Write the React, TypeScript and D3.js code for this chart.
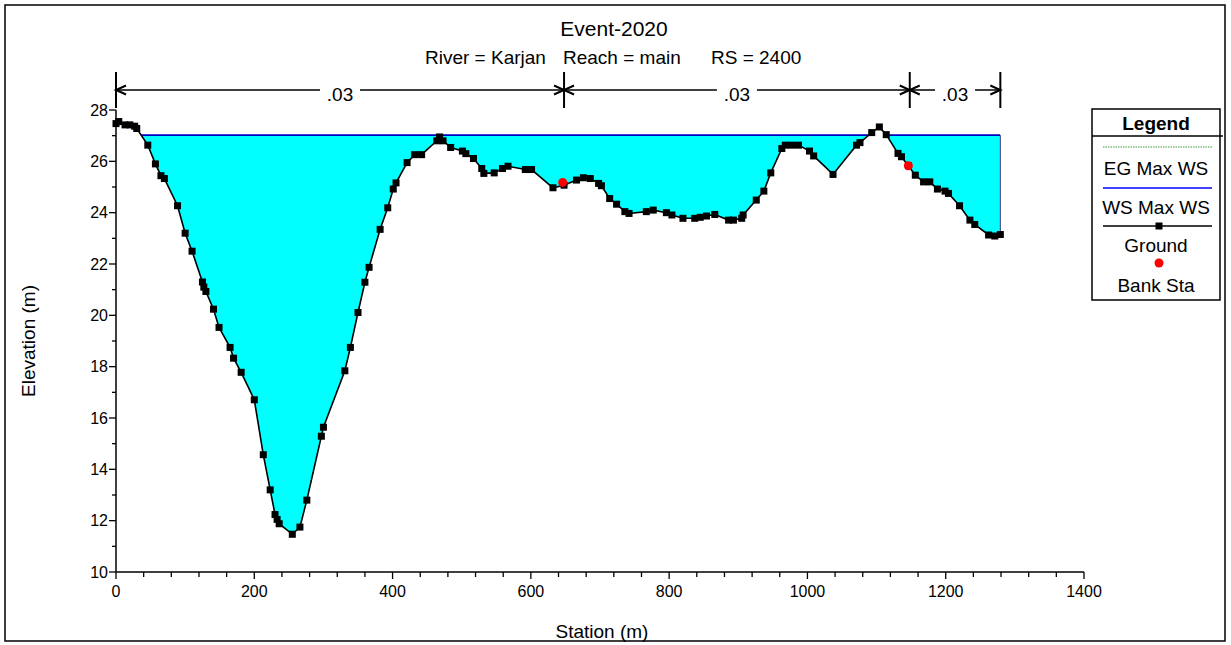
import React from "react";
import * as d3 from "d3";

// ---------- data ----------
const stations = [
  0, 4, 13, 20, 27, 30, 46, 57, 65, 70, 89, 100, 110, 125, 127, 130, 141, 149, 165, 170,
  181, 200, 213, 223, 230, 233, 236, 255, 266, 276, 297, 300, 331, 339, 350, 360, 366, 382,
  393, 401, 405, 421, 432, 442, 464, 468, 473, 484, 501, 506, 517, 529, 532, 547, 559, 567,
  592, 601, 632, 648, 666, 676, 686, 698, 702, 714, 724, 736, 742, 767, 777, 796, 804, 820,
  837, 845, 854, 866, 886, 893, 905, 907, 926, 937, 947, 963, 968, 977, 987, 1003, 1009,
  1037, 1071, 1076, 1093, 1104, 1114, 1131, 1136, 1146, 1156, 1168, 1177, 1188, 1199, 1204,
  1220, 1235, 1242, 1262, 1271, 1279,
];
const elevations = [
  27.47, 27.55, 27.42, 27.42, 27.37, 27.28, 26.63, 25.9, 25.44, 25.33, 24.27, 23.2, 22.5,
  21.3, 21.1, 20.93, 20.24, 19.53, 18.75, 18.33, 17.78, 16.71, 14.57, 13.2, 12.24, 12.05,
  11.88, 11.47, 11.75, 12.8, 15.29, 15.64, 17.84, 18.75, 20.11, 21.29, 21.87, 23.35, 24.19,
  24.92, 25.16, 25.95, 26.26, 26.26, 26.8, 26.95, 26.8, 26.54, 26.4, 26.3, 26.11, 25.72,
  25.53, 25.55, 25.72, 25.81, 25.68, 25.68, 24.97, 25.07, 25.27, 25.36, 25.33, 25.14, 25.05,
  24.55, 24.33, 24.04, 23.97, 24.04, 24.1, 24.0, 23.91, 23.78, 23.78, 23.82, 23.87, 23.93,
  23.71, 23.71, 23.78, 23.91, 24.49, 24.84, 25.55, 26.5, 26.63, 26.63, 26.63, 26.4, 26.21,
  25.49, 26.63, 26.73, 27.12, 27.34, 27.04, 26.31, 26.18, 25.83, 25.46, 25.2, 25.2, 24.92,
  24.84, 24.75, 24.27, 23.71, 23.54, 23.13, 23.09, 23.15,
];
const bankStations = [646, 1146];
const bankElevations = [25.18, 25.83];
const nBreaks = [0, 648, 1148, 1279];
const nValues = [".03", ".03", ".03"];
const wsElevation = 27.02;
const xTicks = [0, 200, 400, 600, 800, 1000, 1200, 1400];
const xMinorTicks = d3.range(0, 1401, 40);
const yTicks = [10, 12, 14, 16, 18, 20, 22, 24, 26, 28];
const yMinorTicks = d3.range(10, 29, 1);
const titleText = "Event-2020";
const subtitleParts = ["River = Karjan", "Reach = main", "RS = 2400"];
const legendLabels = ["EG Max WS", "WS Max WS", "Ground", "Bank Sta"];
const xTitle = "Station (m)";
const yTitle = "Elevation (m)";

// ---------- layout ----------
const W = 1231;
const H = 645;
const FONT = "'Liberation Sans', Arial, sans-serif";
const x = d3.scaleLinear().domain([0, 1400]).range([116, 1084]);
const y = d3.scaleLinear().domain([10, 28]).range([572, 110]);

export default function App() {
  const ground = stations.map((s, i) => [s, elevations[i]] as [number, number]);
  const lineGen = d3
    .line<[number, number]>()
    .x((d) => x(d[0]))
    .y((d) => y(d[1]));
  const lastS = stations[stations.length - 1];
  const lastE = elevations[elevations.length - 1];
  const clipPts: [number, number][] = [...ground, [lastS, 29.5], [stations[0], 29.5]];
  const clipD = lineGen(clipPts) + "Z";
  const waterArea = d3
    .area<number>()
    .x((s) => x(s))
    .y0(y(10))
    .y1(y(wsElevation));
  const wsLine = d3
    .line<number>()
    .x((s) => x(s))
    .y(() => y(wsElevation));

  const barTop = 72;
  const barBottom = 108;
  const barY = 90;
  const arrowL = 10;
  const arrowW = 4.5;

  const legX0 = 1092;
  const legX1 = 1220;
  const legCx = (legX0 + legX1) / 2;
  const legLineX0 = 1103;
  const legLineX1 = 1212;
  const legFS = 19;

  return (
    <div style={{ position: "absolute", left: 0, top: 0 }}>
      <svg width={W} height={H} style={{ display: "block", fontFamily: FONT }}>
        <rect x={0} y={0} width={W} height={H} fill="#fff" />
        <rect x={5} y={5} width={1220} height={636} fill="none" stroke="#000" strokeWidth={1.5} />

        {/* titles */}
        <text x={614} y={28} textAnchor="middle" dominantBaseline="central" fontSize={21}>
          {titleText}
        </text>
        <text x={425} y={57} dominantBaseline="central" fontSize={19}>{subtitleParts[0]}</text>
        <text x={563} y={57} dominantBaseline="central" fontSize={19}>{subtitleParts[1]}</text>
        <text x={711} y={57} dominantBaseline="central" fontSize={19}>{subtitleParts[2]}</text>

        <defs>
          <clipPath id="aboveGround">
            <path d={clipD} />
          </clipPath>
        </defs>

        {/* water */}
        <g clipPath="url(#aboveGround)">
          <path d={waterArea([stations[0], lastS]) || ""} fill="#00FFFF" />
          <path d={wsLine([stations[0], lastS]) || ""} stroke="#0000C0" strokeWidth={1.6} fill="none" />
        </g>
        <line
          x1={x(lastS)}
          x2={x(lastS)}
          y1={y(wsElevation)}
          y2={y(lastE)}
          stroke="#3a3a80"
          strokeWidth={1}
        />

        {/* ground */}
        <path d={lineGen(ground) || ""} fill="none" stroke="#000" strokeWidth={1.6} />
        {ground.map((d, i) => (
          <rect key={i} x={x(d[0]) - 3.5} y={y(d[1]) - 3.5} width={7} height={7} fill="#000" />
        ))}
        {bankStations.map((s, i) => (
          <circle key={i} cx={x(s)} cy={y(bankElevations[i])} r={4.5} fill="#FF0000" />
        ))}

        {/* axes */}
        <line x1={x(0)} x2={x(1400)} y1={y(10)} y2={y(10)} stroke="#000" strokeWidth={1.5} />
        <line x1={x(0)} x2={x(0)} y1={y(10)} y2={y(28)} stroke="#000" strokeWidth={1.5} />
        {xMinorTicks.map((t) => (
          <line
            key={"xm" + t}
            x1={x(t)}
            x2={x(t)}
            y1={y(10)}
            y2={y(10) + (t % 200 === 0 ? 7 : 5)}
            stroke="#000"
            strokeWidth={1.3}
          />
        ))}
        {xTicks.map((t) => (
          <text key={"xl" + t} x={x(t)} y={591} textAnchor="middle" dominantBaseline="central" fontSize={16}>
            {t}
          </text>
        ))}
        {yMinorTicks.map((t) => (
          <line
            key={"ym" + t}
            x1={x(0) - (t % 2 === 0 ? 7 : 4)}
            x2={x(0)}
            y1={y(t)}
            y2={y(t)}
            stroke="#000"
            strokeWidth={1.3}
          />
        ))}
        {yTicks.map((t) => (
          <text key={"yl" + t} x={x(0) - 8} y={y(t)} textAnchor="end" dominantBaseline="central" fontSize={16}>
            {t}
          </text>
        ))}
        <text x={602} y={631} textAnchor="middle" dominantBaseline="central" fontSize={19}>
          {xTitle}
        </text>
        <text
          transform={`translate(28,${(y(10) + y(28)) / 2}) rotate(-90)`}
          textAnchor="middle"
          dominantBaseline="central"
          fontSize={19}
        >
          {yTitle}
        </text>

        {/* Manning's n bars */}
        {nBreaks.map((s) => (
          <line key={"nb" + s} x1={x(s)} x2={x(s)} y1={barTop} y2={barBottom} stroke="#000" strokeWidth={2} />
        ))}
        {nValues.map((v, i) => {
          const a = x(nBreaks[i]);
          const b = x(nBreaks[i + 1]);
          const c = (a + b) / 2;
          const gap = 20;
          return (
            <g key={"nv" + i}>
              <line x1={a} x2={c - gap} y1={barY} y2={barY} stroke="#000" strokeWidth={1.5} />
              <line x1={c + gap} x2={b} y1={barY} y2={barY} stroke="#000" strokeWidth={1.5} />
              <polyline
                points={`${a + arrowL},${barY - arrowW} ${a},${barY} ${a + arrowL},${barY + arrowW}`}
                fill="none"
                stroke="#000"
                strokeWidth={2}
              />
              <polyline
                points={`${b - arrowL},${barY - arrowW} ${b},${barY} ${b - arrowL},${barY + arrowW}`}
                fill="none"
                stroke="#000"
                strokeWidth={2}
              />
              <text x={c} y={barY + 4} textAnchor="middle" dominantBaseline="central" fontSize={19}>
                {v}
              </text>
            </g>
          );
        })}

        {/* legend */}
        <rect x={legX0} y={109} width={legX1 - legX0} height={191} fill="#fff" stroke="#000" strokeWidth={1.5} />
        <line x1={legX0} x2={1223} y1={136} y2={136} stroke="#000" strokeWidth={1.5} />
        <text x={legCx} y={123} textAnchor="middle" dominantBaseline="central" fontSize={legFS} fontWeight="bold">
          Legend
        </text>
        <line x1={legLineX0} x2={legLineX1} y1={147} y2={147} stroke="#3c9a3c" strokeWidth={1.2} strokeDasharray="1.5,1" />
        <text x={legCx} y={168} textAnchor="middle" dominantBaseline="central" fontSize={legFS}>
          {legendLabels[0]}
        </text>
        <line x1={legLineX0} x2={legLineX1} y1={188} y2={188} stroke="#0000FF" strokeWidth={1.5} />
        <text x={legCx} y={207} textAnchor="middle" dominantBaseline="central" fontSize={legFS}>
          {legendLabels[1]}
        </text>
        <line x1={legLineX0} x2={legLineX1} y1={226} y2={226} stroke="#000" strokeWidth={1.6} />
        <rect x={1159 - 3.5} y={226 - 3.5} width={7} height={7} fill="#000" />
        <text x={legCx} y={245} textAnchor="middle" dominantBaseline="central" fontSize={legFS}>
          {legendLabels[2]}
        </text>
        <circle cx={1159} cy={263} r={4.5} fill="#FF0000" />
        <text x={legCx} y={285} textAnchor="middle" dominantBaseline="central" fontSize={legFS}>
          {legendLabels[3]}
        </text>
      </svg>
    </div>
  );
}
